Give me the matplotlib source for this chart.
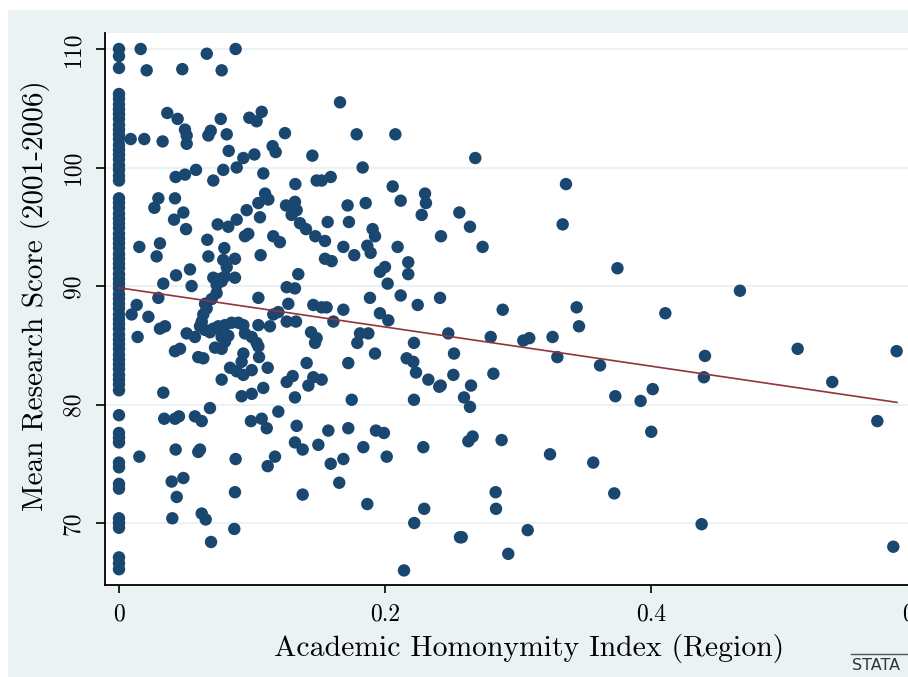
import matplotlib
matplotlib.use("Agg")
import matplotlib.pyplot as plt
from matplotlib.patches import Rectangle
from matplotlib.lines import Line2D

plt.rcParams['axes.formatter.use_mathtext'] = True
FONT = ['cmr10', 'DejaVu Serif']

# ---------------- data ----------------
# Departments whose homonymity index is exactly 0
score_zero_index = [110.0, 109.4, 108.4,
                    106.2, 105.8, 105.3, 104.9, 104.5, 104.1, 103.6, 103.2, 102.8, 102.4,
                    101.9, 101.5, 101.1, 100.7, 100.2, 99.8, 99.3, 98.9,
                    97.4, 97.0, 96.6, 96.1, 95.7, 95.3, 94.9, 94.4, 94.0, 93.6, 93.2, 92.7,
                    92.3, 91.9, 91.5, 91.0, 90.6, 90.2, 89.8, 89.3, 88.9, 88.5, 88.1, 87.6,
                    87.2, 86.8, 86.4, 85.9, 85.5, 85.1, 84.7, 84.2, 83.8, 83.4, 83.0, 82.5,
                    82.1, 81.7, 81.2,
                    79.1, 77.6, 77.2, 76.8, 75.1, 74.7, 73.3, 72.9,
                    70.4, 70.0, 69.6, 67.1, 66.6, 66.1]

homonymity_index = [
    0.0163, 0.066, 0.0877, 0.0208, 0.0476, 0.0772, 0.0363, 0.0441, 0.0496, 0.0509,
    0.0509, 0.0088, 0.019, 0.0328, 0.0672, 0.069, 0.0765, 0.081, 0.0825, 0.098,
    0.1035, 0.1073, 0.0935, 0.0885, 0.1018, 0.1155, 0.1178, 0.1248, 0.0426, 0.0496,
    0.0579, 0.0709, 0.0784, 0.1085, 0.1098, 0.1123, 0.0296, 0.0266, 0.0421, 0.0484,
    0.0414, 0.0504, 0.0742, 0.0822, 0.0885, 0.096, 0.1048, 0.106, 0.0947, 0.116,
    0.121, 0.1256, 0.0153, 0.0308, 0.0283, 0.0664, 0.0792, 0.0672, 0.0872, 0.0784,
    0.081, 0.1065, 0.0534, 0.0429, 0.0333, 0.0546, 0.0709, 0.0759, 0.0872, 0.0797,
    0.0734, 0.1261, 0.0296, 0.0697, 0.1048, 0.0972, 0.0772, 0.0734,
    # lower-left cluster
    0.0133, 0.0095, 0.0221, 0.014, 0.0308, 0.0346, 0.0509, 0.0571, 0.0421, 0.0459,
    0.0596, 0.0634, 0.0647, 0.0659, 0.0634, 0.0622, 0.0609, 0.0647, 0.0684, 0.0709,
    0.0747, 0.0797, 0.0847, 0.0897, 0.0935, 0.0772, 0.0822, 0.0947, 0.0998, 0.1035,
    0.0722, 0.0772, 0.0797, 0.0935, 0.0922, 0.1048, 0.1053, 0.0835, 0.0885, 0.0935,
    0.0998, 0.1118, 0.0772, 0.1048, 0.1135, 0.1261, 0.1273, 0.116, 0.1198, 0.0922,
    0.0998, 0.1085, 0.1261, 0.0333,
    0.0153, 0.034, 0.0421, 0.0451, 0.0571, 0.0622, 0.0684, 0.0426, 0.0596, 0.0609,
    0.0877, 0.0992, 0.1073, 0.1111, 0.1198, 0.1173, 0.1118, 0.0396, 0.0484, 0.0434,
    0.0872, 0.0401, 0.0622, 0.0652, 0.0867, 0.0692,
    # middle, upper
    0.1662, 0.1787, 0.2078, 0.1454, 0.2679, 0.1832, 0.1486, 0.1524, 0.1592, 0.1326,
    0.2058, 0.3361, 0.2301, 0.2308, 0.1323, 0.1336, 0.1298, 0.1719, 0.1855, 0.2118,
    0.2276, 0.2559, 0.3336, 0.1569, 0.1729, 0.1361, 0.1406, 0.1476, 0.1549, 0.1907,
    0.1925, 0.2639, 0.2421, 0.2734, 0.1687, 0.1769, 0.1867, 0.1892, 0.2095, 0.1549,
    0.1599, 0.1962, 0.2, 0.2175, 0.2175, 0.1348, 0.1323, 0.202, 0.1887, 0.2118,
    0.2414,
    # middle, lower
    0.1461, 0.1524, 0.1561, 0.1687, 0.1962, 0.2025, 0.2246, 0.2885, 0.3441, 0.3459,
    0.1331, 0.1612, 0.1444, 0.1486, 0.1474, 0.1812, 0.1875, 0.1792, 0.2218, 0.2476,
    0.2795, 0.304, 0.3085, 0.326, 0.3296, 0.1925, 0.2163, 0.2213, 0.2519, 0.1411,
    0.1724, 0.2233, 0.2514, 0.2815, 0.1306, 0.1424, 0.1461, 0.1524, 0.2326, 0.2408,
    0.2419, 0.2647, 0.1323, 0.175, 0.2218, 0.2594, 0.2639, 0.1336, 0.1574, 0.1724,
    0.1932, 0.1992, 0.1323, 0.1381, 0.1499, 0.1837, 0.2288, 0.2627, 0.2659, 0.2877,
    0.3241, 0.1592, 0.1687, 0.2013, 0.1656, 0.1381, 0.1867, 0.2295, 0.2832, 0.2835,
    0.222, 0.2564, 0.2577, 0.3073, 0.2927, 0.2143,
    # right tail
    0.3748, 0.4669, 0.4108, 0.3617, 0.4406, 0.4398, 0.5103, 0.5847, 0.5363, 0.5702,
    0.3732, 0.3922, 0.4013, 0.4002, 0.3566, 0.3724, 0.4381, 0.5822,
]

research_score = [
    110.0, 109.6, 110.0, 108.2, 108.3, 108.2, 104.6, 104.1, 103.2, 102.7,
    102.0, 102.4, 102.4, 102.2, 102.7, 103.1, 104.1, 102.8, 101.4, 104.2,
    103.9, 104.7, 100.8, 100.0, 101.1, 101.8, 101.3, 102.9, 99.2, 99.4,
    99.8, 98.9, 99.8, 99.5, 97.8, 97.3, 97.4, 96.6, 97.4, 96.2,
    95.6, 94.8, 95.2, 95.0, 95.6, 96.4, 97.0, 95.8, 94.2, 94.2,
    93.7, 96.8, 93.3, 93.6, 92.5, 93.9, 93.2, 92.5, 92.3, 92.2,
    91.6, 92.6, 91.4, 90.9, 90.2, 90.0, 90.7, 90.6, 90.7, 90.8,
    89.4, 89.9, 89.0, 88.9, 89.0, 94.4, 90.4, 90.1,
    88.4, 87.6, 87.4, 85.7, 86.4, 86.6, 86.0, 85.7, 84.5, 84.7,
    84.0, 83.9, 88.5, 88.1, 87.6, 87.0, 86.6, 86.3, 86.1, 86.4,
    86.6, 86.7, 86.9, 86.9, 86.7, 85.7, 85.8, 86.0, 85.7, 85.2,
    84.8, 84.7, 85.3, 84.3, 83.6, 84.9, 84.0, 83.1, 82.8, 82.5,
    82.9, 83.1, 82.1, 86.7, 86.6, 87.0, 88.5, 87.6, 87.8, 80.7,
    80.9, 81.4, 81.9, 81.0,
    75.6, 78.8, 78.8, 79.0, 79.0, 78.6, 79.7, 76.2, 76.0, 76.2,
    75.4, 78.6, 78.8, 78.0, 79.4, 75.6, 74.8, 73.5, 73.8, 72.2,
    72.6, 70.4, 70.8, 70.3, 69.5, 68.4,
    105.5, 102.8, 102.8, 101.0, 100.8, 100.0, 98.9, 98.9, 99.2, 98.6,
    98.4, 98.6, 97.8, 97.0, 97.1, 96.4, 96.0, 96.8, 97.0, 97.2,
    96.0, 96.2, 95.2, 95.4, 95.4, 95.3, 94.8, 94.2, 93.8, 94.8,
    94.2, 95.0, 94.2, 93.3, 93.3, 92.6, 93.4, 92.8, 93.3, 92.3,
    92.1, 91.2, 91.6, 92.0, 91.0, 91.0, 89.8, 90.2, 89.0, 89.2,
    89.0,
    88.4, 88.2, 88.2, 88.0, 87.7, 87.1, 88.4, 88.0, 88.2, 86.6,
    87.0, 87.0, 86.1, 85.6, 85.2, 86.0, 86.0, 85.2, 85.2, 86.0,
    85.7, 85.4, 85.6, 85.7, 84.0, 84.3, 83.9, 83.6, 84.3, 83.5,
    83.5, 82.7, 82.5, 82.6, 82.4, 81.6, 82.3, 82.1, 82.1, 81.5,
    81.6, 81.6, 80.6, 80.4, 80.4, 80.6, 79.8, 78.2, 77.8, 78.0,
    77.8, 77.6, 76.8, 76.2, 76.6, 76.4, 76.4, 76.9, 77.3, 77.0,
    75.8, 75.0, 75.4, 75.6, 73.4, 72.4, 71.6, 71.2, 72.6, 71.2,
    70.0, 68.8, 68.8, 69.4, 67.4, 66.0,
    91.5, 89.6, 87.7, 83.3, 84.1, 82.3, 84.7, 84.5, 81.9, 78.6,
    80.7, 80.3, 81.3, 77.7, 75.1, 72.5, 69.9, 68.0,
]

# fitted values (linear fit)
fit_x = [0.0, 0.585]
fit_y = [89.85, 80.18]

x_ticks = [0, 0.2, 0.4, 0.6]
x_tick_labels = ['0', '0.2', '0.4', '0.6']
y_ticks = [70, 80, 90, 100, 110]
y_tick_labels = ['70', '80', '90', '100', '110']

x_title = 'Academic Homonymity Index (Region)'
y_title = 'Mean Research Score (2001-2006)'

# ---------------- layout ----------------
W, H = 908, 677
NAVY = '#1a476f'
MAROON = '#90353b'
BG = '#eaf2f3'

fig = plt.figure(figsize=(W / 100, H / 100), dpi=100, facecolor='white')
fig.add_artist(Rectangle((8 / W, 0), 1, (H - 10) / H, transform=fig.transFigure,
                         facecolor=BG, edgecolor='none', zorder=-5))

left_px, right_px, top_px, bottom_px = 104.5, 953.0, 33.0, 585.0
ax = fig.add_axes([left_px / W, (H - bottom_px) / H,
                   (right_px - left_px) / W, (bottom_px - top_px) / H])
ax.set_facecolor('white')

ax.scatter([0.0] * len(score_zero_index), score_zero_index, s=80, color=NAVY,
           edgecolors='none', zorder=3)
ax.scatter(homonymity_index, research_score, s=80, color=NAVY,
           edgecolors='none', zorder=3)
ax.plot(fit_x, fit_y, color=MAROON, lw=1.2, zorder=4)

ax.set_xlim(-0.0109, 0.6271)
ax.set_ylim(64.77, 111.35)

ax.set_xticks(x_ticks)
ax.set_xticklabels(x_tick_labels, fontfamily=FONT, fontsize=17)
ax.set_yticks(y_ticks)
ax.set_yticklabels(y_tick_labels, fontfamily=FONT, fontsize=17, rotation=90,
                   va='center')
ax.tick_params(axis='x', length=6, width=1.2, pad=7, colors='black')
ax.tick_params(axis='y', length=6.5, width=1.2, pad=8, colors='black')

ax.grid(axis='y', color=BG, lw=1.5)
ax.set_axisbelow(True)
for s in ('top', 'right'):
    ax.spines[s].set_visible(False)
for s in ('left', 'bottom'):
    ax.spines[s].set_linewidth(1.3)
    ax.spines[s].set_color('black')

ax.set_xlabel(x_title, fontfamily=FONT, fontsize=21.4)
ax.xaxis.set_label_coords((529 - left_px) / (right_px - left_px),
                          (bottom_px - 634) / (bottom_px - top_px))
ax.set_ylabel(y_title, fontfamily=FONT, fontsize=21)
ax.yaxis.set_label_coords((50 - left_px) / (right_px - left_px),
                          (bottom_px - 296) / (bottom_px - top_px))

# Stata logo (partly cut at the right edge)
fig.add_artist(Line2D([851 / W, 1.0], [1 - 654 / H, 1 - 654 / H],
                      transform=fig.transFigure, color='#555555', lw=1.0))
fig.text(852 / W, 1 - 670 / H, 'STATA', fontsize=11.5, color='#333333',
         fontfamily='DejaVu Sans', va='baseline', ha='left')

fig.savefig('out.png', dpi=100, facecolor='white')
